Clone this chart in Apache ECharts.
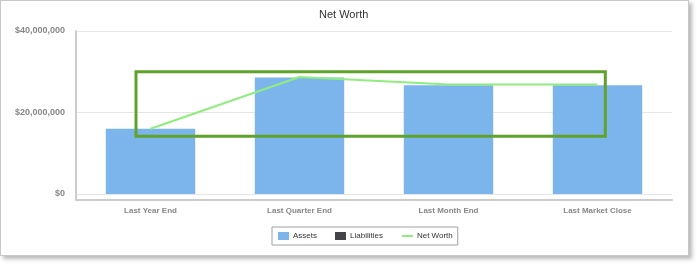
<!DOCTYPE html>
<html><head><meta charset="utf-8">
<script src="https://cdn.jsdelivr.net/npm/echarts@6/dist/echarts.min.js"></script>
<style>
html,body{margin:0;padding:0;background:#fff;}
#frame{position:absolute;left:0;top:0;width:687px;height:254px;border:1px solid #c8c8c8;box-shadow:3px 3px 4px rgba(0,0,0,0.28);background:#fff;}
#chart{position:absolute;left:0;top:0;width:697px;height:265px;}
</style></head>
<body>
<div id="frame"></div>
<div id="chart"></div>
<script>
const categories = ['Last Year End', 'Last Quarter End', 'Last Month End', 'Last Market Close'];
const assets = [16000000, 28600000, 26700000, 26700000];
const liabilities = [0, 0, 0, 0];
const netWorth = [16000000, 28700000, 26900000, 26900000];
const yTicks = [0, 20000000, 40000000];

const chart = echarts.init(document.getElementById('chart'), null, {renderer: 'canvas'});
const fmt = v => '$' + v.toLocaleString('en-US');
chart.setOption({
  animation: false,
  backgroundColor: 'transparent',
  title: {text: 'Net Worth', left: 319, top: 9, padding: 0,
    textStyle: {fontSize: 11, fontWeight: 'normal', color: '#333', fontFamily: 'Liberation Sans, Arial, sans-serif'}},
  grid: {left: 76, right: 25, top: 31, bottom: 71, containLabel: false},
  xAxis: {
    type: 'category', data: categories, offset: 6,
    axisLine: {show: true, onZero: false, lineStyle: {color: '#cccccc', width: 2}},
    axisTick: {show: false},
    axisLabel: {margin: 7, fontSize: 8, fontWeight: 'bold', color: '#888', fontFamily: 'Liberation Sans, Arial, sans-serif'}
  },
  yAxis: {
    type: 'value', min: yTicks[0], max: yTicks[yTicks.length - 1], interval: yTicks[1] - yTicks[0],
    axisLine: {show: true, lineStyle: {color: '#cccccc', width: 2}},
    axisTick: {show: false},
    splitLine: {lineStyle: {color: '#e6e6e6', width: 1}},
    axisLabel: {margin: 11, fontSize: 9, fontWeight: 'bold', color: '#888', fontFamily: 'Liberation Sans, Arial, sans-serif', formatter: fmt}
  },
  legend: {
    bottom: 265 - 245, left: 272, padding: [5, 5, 5, 6],
    borderColor: '#a0a0a0', borderWidth: 1, backgroundColor: '#fff',
    itemWidth: 11, itemHeight: 8, itemGap: 18,
    textStyle: {fontSize: 8, color: '#333', fontFamily: 'Liberation Sans, Arial, sans-serif', padding: [0, 0, 0, -1]},
    data: [{name: 'Assets', icon: 'rect'}, {name: 'Liabilities', icon: 'rect'},
      {name: 'Net Worth', itemStyle: {opacity: 0}, lineStyle: {color: '#90ed7d', width: 2}}]
  },
  series: [
    {name: 'Assets', type: 'bar', stack: 'a', data: assets, barWidth: '60%',
      itemStyle: {color: '#7cb5ec'}},
    {name: 'Liabilities', type: 'bar', stack: 'a', data: liabilities, barWidth: '60%',
      itemStyle: {color: '#434348'}},
    {name: 'Net Worth', type: 'line', data: netWorth, symbol: 'none',
      lineStyle: {color: '#90ed7d', width: 2}, itemStyle: {color: '#90ed7d'}, z: 5}
  ],
  graphic: [
    {type: 'line', shape: {x1: 76, y1: 193, x2: 76, y2: 200}, style: {stroke: '#cccccc', lineWidth: 2}},
    {type: 'rect', shape: {x: 136, y: 71.7, width: 469.3, height: 64.6},
      style: {fill: 'none', stroke: '#5fa32a', lineWidth: 3}, z: 100}
  ]
});
</script>
</body></html>
